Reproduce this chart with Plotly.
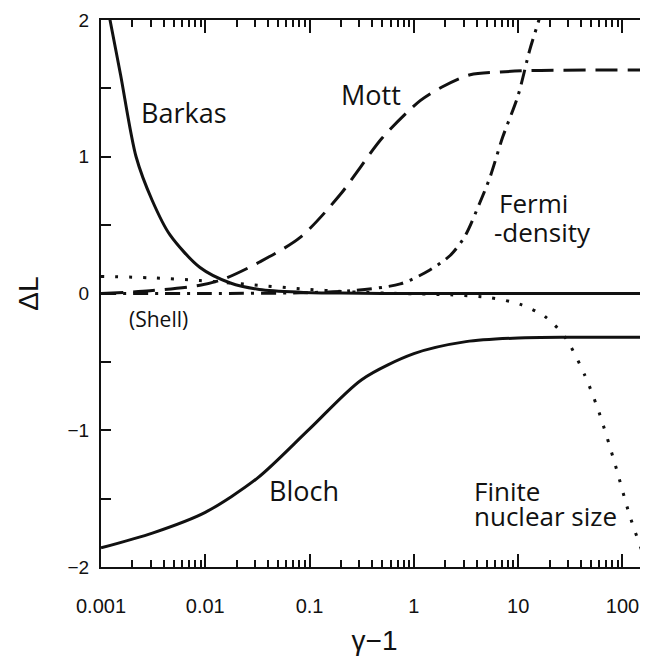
import math
import plotly.graph_objects as go

# ---------------- data ----------------
x_ticks = [0.001, 0.01, 0.1, 1, 10, 100]
x_tick_labels = ["0.001", "0.01", "0.1", "1", "10", "100"]
y_ticks = [-2, -1, 0, 1, 2]
y_tick_labels = ["\u22122", "\u22121", "0", "1", "2"]

barkas_x = [0.00115, 0.00122, 0.00154, 0.00217, 0.0031, 0.00457, 0.0089, 0.0174, 0.033, 0.081, 0.2, 1, 10, 200]
barkas_y = [2.1, 2.0, 1.6, 1.0, 0.68, 0.43, 0.19, 0.077, 0.03, 0.01, 0.003, 0.0, 0.0, 0.0]

bloch_x = [0.001, 0.00316, 0.01, 0.0316, 0.1, 0.316, 1, 3.16, 10, 31.6, 200]
bloch_y = [-1.86, -1.75, -1.60, -1.35, -0.99, -0.63, -0.44, -0.352, -0.325, -0.32, -0.32]

mott_x = [0.001, 0.00295, 0.0089, 0.0155, 0.0331, 0.0813, 0.195, 0.501, 1.15, 1.86, 3.47, 6.76, 12.9, 200]
mott_y = [0.0, 0.02, 0.06, 0.11, 0.23, 0.41, 0.72, 1.14, 1.41, 1.51, 1.60, 1.62, 1.63, 1.635]

fermi_x = [0.001, 0.01, 0.0813, 0.245, 0.741, 1.41, 2.24, 3.09, 4.27, 5.37, 7.08, 10.0, 12.9, 15.8, 17.8]
fermi_y = [0.0, 0.0, 0.005, 0.02, 0.07, 0.17, 0.28, 0.42, 0.66, 0.85, 1.14, 1.45, 1.78, 2.0, 2.15]

finite_x = [0.001, 0.00295, 0.0089, 0.0269, 0.0813, 0.245, 0.741, 2.24, 5.37, 10.5, 18.2, 28.2, 43.7, 60.3, 85.1, 117, 166, 200]
finite_y = [0.125, 0.115, 0.095, 0.065, 0.035, 0.012, 0.0, -0.01, -0.03, -0.08, -0.17, -0.32, -0.6, -0.88, -1.25, -1.62, -1.95, -2.1]

label_text = ["Barkas", "Mott", "Fermi", "-density", "Bloch", "Finite", "nuclear size", "(Shell)"]
label_x = [0.00231, 0.19, 6.27, 5.61, 0.0392, 3.62, 3.62, 0.00177]
label_y = [1.327, 1.452, 0.66, 0.45, -1.437, -1.444, -1.627, -0.186]
label_size = [27, 27, 26, 26, 27, 26, 26, 21]

# ---------------- figure ----------------
INK = "#111111"
fig = go.Figure()

def add(x, y, dash):
    fig.add_trace(go.Scatter(x=x, y=y, mode="lines",
                             line=dict(color=INK, width=3, dash=dash, shape="spline", smoothing=0.8),
                             showlegend=False, hoverinfo="skip"))

add(barkas_x, barkas_y, "solid")
add(bloch_x, bloch_y, "solid")
add(mott_x, mott_y, "22px,10px")
add(fermi_x, fermi_y, "15px,7px,3px,7px")
add(finite_x, finite_y, "3px,11px")

minor_x = [k * 10 ** n for n in range(-3, 3) for k in range(2, 10)]

# the page body adds an 8 px offset, so the figure is 8 px smaller to fill the window exactly
fig.update_layout(
    width=640, height=656,
    margin=dict(l=93, r=0, t=12, b=97),
    paper_bgcolor="white", plot_bgcolor="white",
    font=dict(family="Liberation Sans, Arial, sans-serif", color=INK),
    xaxis=dict(
        type="log", range=[-3, 2.245], automargin=False,
        tickvals=x_ticks, ticktext=x_tick_labels,
        ticks="inside", ticklen=13, tickwidth=2, tickcolor=INK,
        minor=dict(tickvals=minor_x, ticks="inside", ticklen=7, tickwidth=2, tickcolor=INK, showgrid=False),
        showline=True, linewidth=2, linecolor=INK, mirror="ticks",
        showgrid=False, zeroline=False,
        tickfont=dict(size=20, color=INK), ticklabelstandoff=20,
        title=dict(text="\u03b3\u22121", font=dict(size=28, color=INK), standoff=14),
    ),
    yaxis=dict(
        range=[-2, 2], automargin=False,
        tickvals=y_ticks, ticktext=y_tick_labels,
        ticks="inside", ticklen=10, tickwidth=2, tickcolor=INK,
        minor=dict(tickvals=[-1.5, -0.5, 0.5, 1.5], ticks="inside", ticklen=10, tickwidth=2, tickcolor=INK, showgrid=False),
        showline=True, linewidth=2, linecolor=INK,
        showgrid=False, zeroline=False,
        tickfont=dict(size=19, color=INK), ticklabelstandoff=6,
        title=dict(text="\u0394L", font=dict(size=28, color=INK), standoff=21),
    ),
    yaxis2=dict(
        range=[-2, 2], overlaying="y", side="right", anchor="x", automargin=False,
        tickvals=[-2, -1.5, -1, -0.5, 0, 0.5, 1, 1.5, 2], showticklabels=False,
        ticks="inside", ticklen=3, tickwidth=2, tickcolor=INK,
        showline=False, showgrid=False, zeroline=False,
    ),
)
fig.add_trace(go.Scatter(x=[0.01], y=[0], yaxis="y2", mode="markers",
                         marker=dict(opacity=0), showlegend=False, hoverinfo="skip"))

for t, x, y, s in zip(label_text, label_x, label_y, label_size):
    fig.add_annotation(x=math.log10(x), y=y, text=t, showarrow=False, xanchor="left",
                       yanchor="middle",
                       font=dict(family="Open Sans, Noto Sans, sans-serif", size=s, color=INK))

fig.write_html("out.html")
